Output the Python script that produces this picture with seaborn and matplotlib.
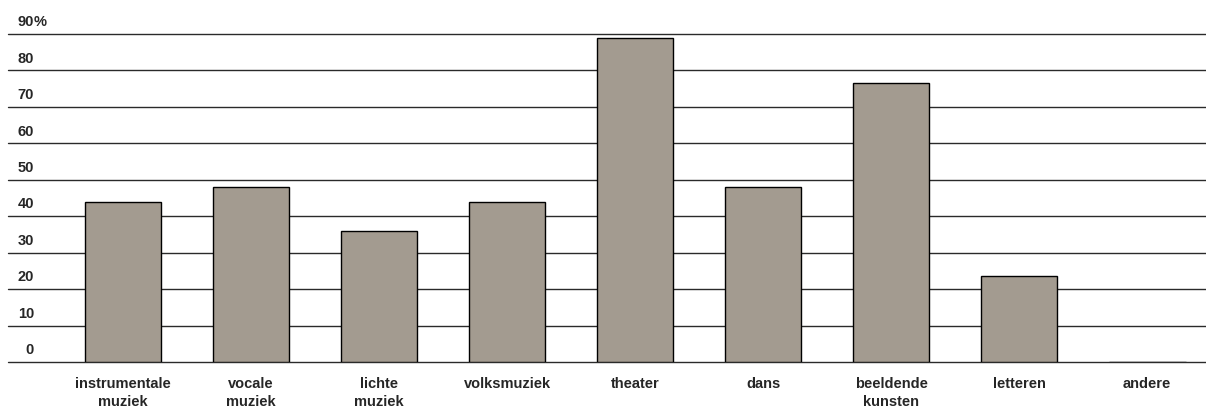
import matplotlib
matplotlib.use("Agg")
import matplotlib.pyplot as plt
import seaborn as sns
import pandas as pd

categories = ["instrumentale\nmuziek", "vocale\nmuziek", "lichte\nmuziek", "volksmuziek",
              "theater", "dans", "beeldende\nkunsten", "letteren", "andere"]
values = [44, 48, 36, 44, 89, 48, 76.5, 23.5, 0]
y_ticks = [0, 10, 20, 30, 40, 50, 60, 70, 80, 90]
y_labels = ["0", "10", "20", "30", "40", "50", "60", "70", "80", "90"]

sns.set_style("white")
plt.rcParams['font.family'] = ['Liberation Sans Narrow', 'Liberation Sans', 'DejaVu Sans']

df = pd.DataFrame({"cat": categories, "val": values})

fig = plt.figure(figsize=(12.06, 4.11), dpi=100)
ax = fig.add_axes([8 / 1206, 1 - 362 / 411, 1 - 8 / 1206, 362 / 411])

sns.barplot(data=df, x="cat", y="val", color="#a39b90", edgecolor="black",
            linewidth=1, width=0.6, saturation=1, ax=ax)

# gridlines behind the bars
for t in y_ticks:
    ax.axhline(t, color="#2a2a2a", lw=1.0, zorder=0, clip_on=False)

ax.set_xlim(-0.898, 8.46)
ax.set_ylim(0, 99.3)
ax.set_yticks([])
ax.set_xlabel("")
ax.set_ylabel("")
for s in ax.spines.values():
    s.set_visible(False)

ax.tick_params(axis="x", length=0, pad=11)
ax.set_xticks(range(len(categories)))
ax.set_xticklabels(categories, fontweight="bold", fontsize=10.5, linespacing=1.3)

# y labels sit just above each gridline, numbers right-aligned
lab_x = 26 / 1198
for t, lab in zip(y_ticks, y_labels):
    ax.text(lab_x, t + 1.3, lab, transform=ax.get_yaxis_transform(),
            ha="right", va="bottom", fontsize=10.5, fontweight="bold")
ax.text(lab_x, y_ticks[-1] + 1.3, "%", transform=ax.get_yaxis_transform(),
        ha="left", va="bottom", fontsize=10.5, fontweight="bold")

fig.savefig("out.png", dpi=100)
